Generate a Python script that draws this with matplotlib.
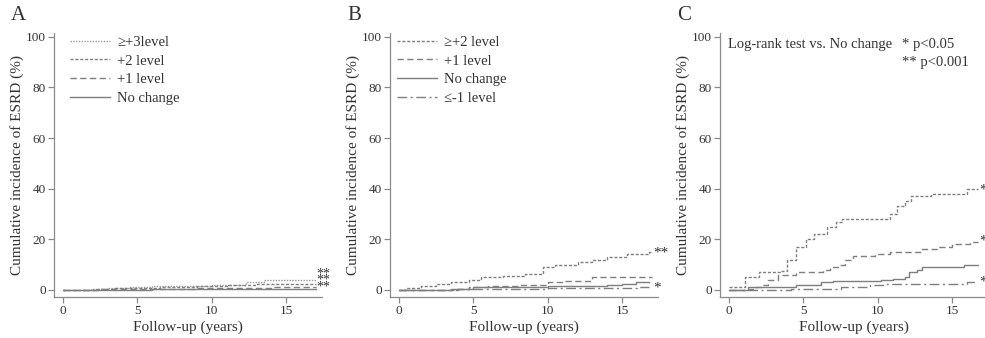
import matplotlib.pyplot as plt

plt.rcParams['font.family'] = ['Liberation Serif', 'DejaVu Serif']

# Panel A: time (years) and cumulative incidence (%)
a_t3 = [0, 1.9, 3.0, 4.5, 6.0, 8.0, 10.0, 12.3, 13.5, 17.0]
a_v3 = [0, 0.4, 0.7, 1.0, 1.4, 1.6, 2.0, 3.0, 4.0, 4.0]
a_t2 = [0, 2.2, 3.5, 5.0, 6.5, 9.0, 11.0, 13.0, 17.0]
a_v2 = [0, 0.3, 0.6, 0.9, 1.2, 1.5, 1.9, 2.5, 2.5]
a_t1 = [0, 2.5, 5.0, 9.0, 14.0, 17.0]
a_v1 = [0, 0.2, 0.4, 0.6, 1.0, 1.0]
a_t0 = [0, 6.0, 14.0, 17.0]
a_v0 = [0, 0.2, 0.5, 0.5]

# Panel B
b_t2 = [0, 0.5, 1.5, 2.5, 3.5, 4.7, 5.5, 7.0, 8.5, 9.7, 10.5, 12.0, 13.0, 14.0, 15.3, 16.8, 17.0]
b_v2 = [0, 0.8, 1.5, 2.3, 3.2, 4.0, 5.0, 5.5, 6.2, 9.0, 10.0, 11.0, 12.0, 13.0, 14.0, 15.0, 15.0]
b_t1 = [0, 3.7, 4.7, 6.0, 8.0, 10.0, 11.0, 13.0, 17.0]
b_v1 = [0, 0.5, 1.0, 1.5, 2.0, 3.0, 3.5, 5.0, 5.0]
b_t0 = [0, 3.5, 5.0, 10.0, 14.0, 15.0, 15.9, 16.8]
b_v0 = [0, 0.5, 1.0, 1.5, 2.0, 2.5, 3.2, 3.2]
b_tm = [0, 4.0, 5.0, 10.0, 15.0, 16.0, 16.8]
b_vm = [0, 0.2, 0.5, 0.6, 0.8, 1.0, 1.0]

# Panel C
c_t2 = [0, 1.1, 2.0, 3.5, 3.9, 4.5, 5.2, 5.7, 6.6, 7.2, 7.6, 10.4, 10.8, 11.3, 11.8, 12.2, 13.6, 16.0, 16.7]
c_v2 = [1.3, 5.0, 7.0, 7.5, 12.0, 17.0, 20.0, 22.0, 25.0, 27.0, 28.0, 28.0, 30.0, 33.0, 35.0, 37.0, 38.0, 40.0, 40.0]
c_t1 = [0, 1.2, 1.8, 2.2, 2.6, 3.3, 4.5, 6.0, 6.3, 6.8, 7.4, 7.8, 8.3, 9.8, 10.8, 13.0, 14.0, 15.0, 16.2, 16.7]
c_v1 = [0, 0.5, 1.0, 2.0, 4.0, 6.0, 7.0, 7.0, 8.0, 9.0, 10.0, 12.0, 13.5, 14.0, 15.0, 16.0, 17.0, 18.0, 19.0, 19.0]
c_t0 = [0, 1.3, 4.5, 6.2, 7.0, 10.2, 11.0, 11.8, 12.1, 12.6, 13.0, 15.8, 16.7]
c_v0 = [0, 1.0, 2.0, 3.0, 3.5, 4.0, 4.5, 5.0, 7.0, 8.0, 9.0, 10.0, 10.0]
c_tm = [0, 4.2, 7.5, 9.5, 10.4, 15.0, 16.0, 16.7]
c_vm = [0, 0.5, 1.0, 2.0, 2.5, 2.5, 3.0, 3.0]

grey_text = '#333333'
grey_line = '#7f7f7f'
grey_axis = '#8a8a8a'

dot = (0, (1, 1))
sdash = (0, (2.2, 1.3))
ldash = (0, (4.5, 2.5))
dashdot = (0, (7, 2.5, 1.5, 2.5))

fig = plt.figure(figsize=(9.85, 3.38), dpi=100)
lefts = [54 / 985, 390 / 985, 720 / 985]
axes = [fig.add_axes([l, 1 - 297 / 338, 268 / 985, (297 - 33) / 338]) for l in lefts]

panels = [
    [(a_t3, a_v3, dot, '≥+3level', '#9a9a9a'),
     (a_t2, a_v2, sdash, '+2 level', grey_line),
     (a_t1, a_v1, ldash, '+1 level', grey_line),
     (a_t0, a_v0, '-', 'No change', grey_line)],
    [(b_t2, b_v2, sdash, '≥+2 level', grey_line),
     (b_t1, b_v1, ldash, '+1 level', grey_line),
     (b_t0, b_v0, '-', 'No change', grey_line),
     (b_tm, b_vm, dashdot, '≤-1 level', grey_line)],
    [(c_t2, c_v2, sdash, None, grey_line),
     (c_t1, c_v1, ldash, None, grey_line),
     (c_t0, c_v0, '-', None, grey_line),
     (c_tm, c_vm, dashdot, None, grey_line)],
]
legend_x = [0.06, 0.026, None]

for ax, letter, series, lx in zip(axes, 'ABC', panels, legend_x):
    for t, v, ls, lab, col in series:
        ax.step(t, v, where='post', color=col, linestyle=ls, linewidth=1.0, label=lab)
    ax.set_xlim(-0.6, 17.4)
    ax.set_ylim(-2.8, 101.5)
    ax.set_xticks([0, 5, 10, 15])
    ax.set_yticks([0, 20, 40, 60, 80, 100])
    for s in ['top', 'right']:
        ax.spines[s].set_visible(False)
    for s in ['left', 'bottom']:
        ax.spines[s].set_color(grey_axis)
        ax.spines[s].set_linewidth(0.9)
    ax.tick_params(colors=grey_axis, labelcolor=grey_text, labelsize=9.5, length=4, width=0.9, pad=2)
    ax.set_xlabel('Follow-up (years)', fontsize=11, color=grey_text, labelpad=2)
    ax.set_ylabel('Cumulative incidence of ESRD (%)', fontsize=11, color=grey_text, labelpad=1)
    ax.text(-0.16, 1.03, letter, transform=ax.transAxes, fontsize=15, color=grey_text,
            ha='left', va='bottom')
    if lx is not None:
        ax.legend(loc='upper left', frameon=False, fontsize=10.5, handlelength=2.75,
                  handletextpad=0.5, labelspacing=0.38, borderaxespad=0, borderpad=0,
                  labelcolor=grey_text, bbox_to_anchor=(lx, 0.99))

# significance marks
axes[0].text(17.0, 6.4, '**', fontsize=10, color=grey_text, va='center', ha='left', clip_on=False)
axes[0].text(17.0, 4.0, '**', fontsize=10, color=grey_text, va='center', ha='left', clip_on=False)
axes[0].text(17.0, 1.3, '**', fontsize=10, color=grey_text, va='center', ha='left', clip_on=False)
axes[1].text(17.1, 14.5, '**', fontsize=11, color=grey_text, va='center', ha='left', clip_on=False)
axes[1].text(17.1, 0.6, '*', fontsize=11, color=grey_text, va='center', ha='left', clip_on=False)
axes[2].text(16.8, 39.5, '**', fontsize=11, color=grey_text, va='center', ha='left', clip_on=False)
axes[2].text(16.8, 19.5, '**', fontsize=11, color=grey_text, va='center', ha='left', clip_on=False)
axes[2].text(16.8, 3.0, '**', fontsize=11, color=grey_text, va='center', ha='left', clip_on=False)

axes[2].text(0.03, 0.955, 'Log-rank test vs. No change', transform=axes[2].transAxes,
             fontsize=10.5, color=grey_text, ha='left', va='center')
axes[2].text(0.68, 0.955, '* p<0.05', transform=axes[2].transAxes,
             fontsize=10.5, color=grey_text, ha='left', va='center')
axes[2].text(0.68, 0.89, '** p<0.001', transform=axes[2].transAxes,
             fontsize=10.5, color=grey_text, ha='left', va='center')

fig.savefig('out.png', dpi=100)
